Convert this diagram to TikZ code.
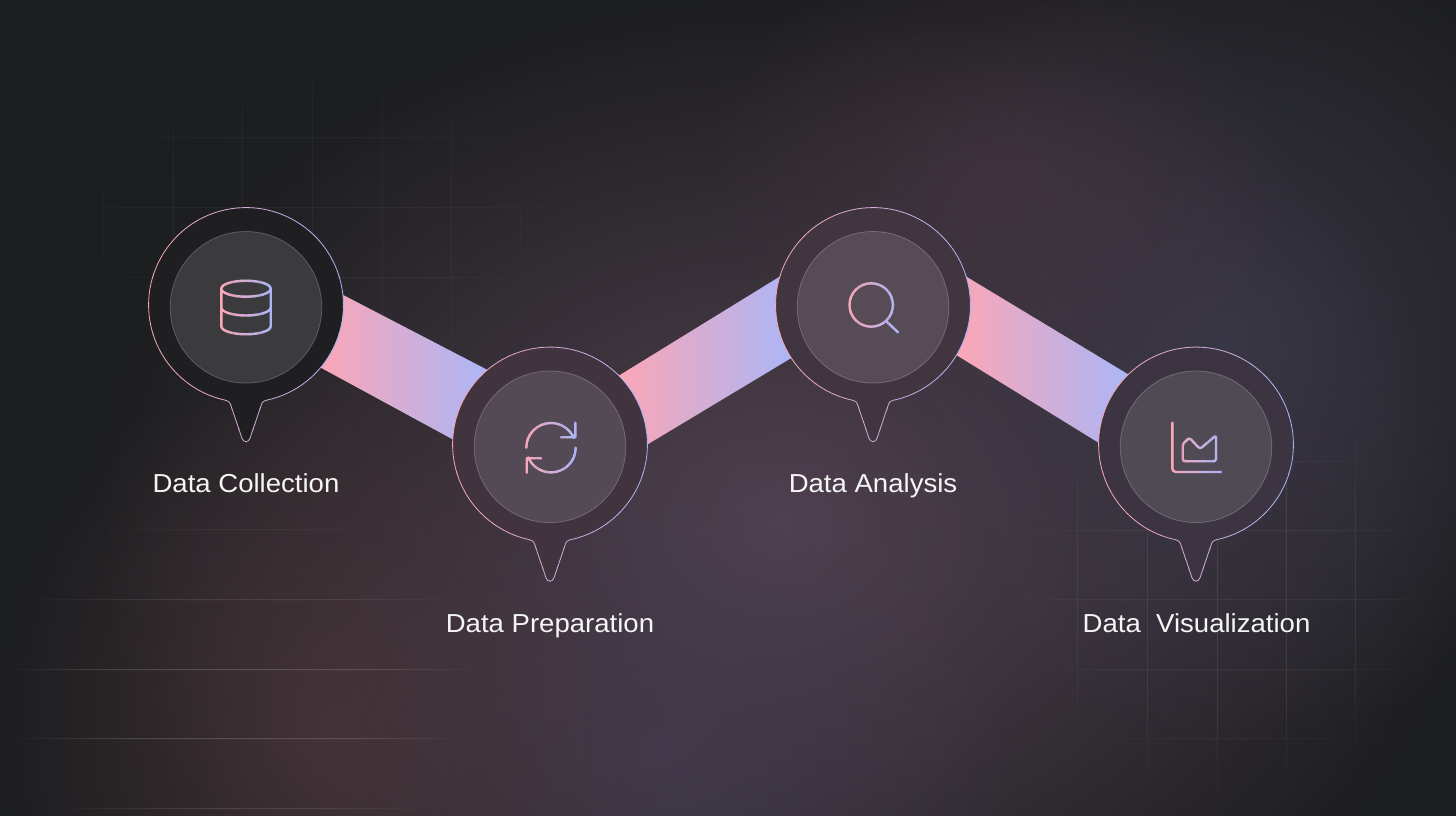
\documentclass[tikz,border=0pt]{standalone}
\usepackage{fontspec}
\setmainfont[FakeStretch=1.06]{Liberation Sans}
\usetikzlibrary{fadings,calc}
\definecolor{gpink}{HTML}{FBA6B6}
\definecolor{gblue}{HTML}{ABB6F7}
\definecolor{bgbase}{HTML}{1D1E20}
\definecolor{glowa}{HTML}{524250}
\definecolor{glowb}{HTML}{3E3B4C}
\definecolor{glowc}{HTML}{4A3844}
\definecolor{glowd}{HTML}{443C4E}
\definecolor{glowe}{HTML}{4A363A}
\definecolor{rima}{HTML}{1F1E21}
\definecolor{rimb}{HTML}{41343F}
\definecolor{rimc}{HTML}{41353F}
\definecolor{rimd}{HTML}{3C3541}
\definecolor{disca}{HTML}{3B3A3D}
\definecolor{discb}{HTML}{534A55}
\definecolor{discc}{HTML}{574C56}
\definecolor{discd}{HTML}{504A55}
\tikzfading[name=glowfade, inner color=transparent!0, outer color=transparent!100]
\pgfdeclareradialshading{gridshade}{\pgfpointorigin}{color(0bp)=(pgftransparent!0); color(14bp)=(pgftransparent!15); color(25bp)=(pgftransparent!100); color(50bp)=(pgftransparent!100)}
\pgfdeclarefading{gridfade}{\pgfuseshading{gridshade}}
\tikzset{
    bubble/.style={circle, minimum size=194.8pt, inner sep=0pt, outer sep=0pt},
    disc/.style={circle, minimum size=151.6pt, inner sep=0pt, draw=white, draw opacity=0.22, line width=0.8pt},
    band/.style={left color=gpink, right color=gblue},
    iconline/.style={line width=2.4pt, line cap=round, line join=round},
    rimline/.style={line width=0.8pt},
    steplabel/.style={anchor=base, text=white!96!black, font=\fontsize{26}{30}\selectfont},
    glow/.style={fill=#1, path fading=glowfade},
    gridlines/.style={fill=white, fill opacity=#1, path fading=gridfade}
}
\newcommand{\bubblepath}{(-78:97.4pt) arc[start angle=-78, end angle=257.7, radius=97.4pt]
    .. controls (-17,-96.4) and (-16,-97.5) .. (-15.6,-99) -- (-4,-133.3)
    .. controls (-2.5,-137.8) and (2.5,-137.8) .. (4,-133.3) -- (15.6,-99)
    .. controls (16,-97.5) and (17,-96.4) .. (20.25,-95.27)}
\newcommand{\gradstroke}[4]{%
    \foreach \k in {0,...,27}{
        \pgfmathsetmacro{\mixval}{100-\k*100/27}
        \begin{scope}
            \clip ({#1+(#2-#1)*\k/28-0.15},-150) rectangle ({#1+(#2-#1)*(\k+1)/28+0.15},150);
            \draw[#3, color=gpink!\mixval!gblue] #4;
        \end{scope}
    }}
\newcommand{\bubbleshape}[2]{%
    \begin{scope}[shift={(#1)}]
        \fill[#2] \bubblepath;
        \gradstroke{-100}{100}{rimline}{\bubblepath}
    \end{scope}}
\begin{document}
\begin{tikzpicture}[x=1pt,y=1pt]
    \useasboundingbox (0,0) rectangle (1456,816);
    \begin{scope}
    \clip (0,0) rectangle (1456,816);
    \fill[bgbase] (0,0) rectangle (1456,816);
    \fill[glow=glowa] (780,290) ellipse (690pt and 530pt);
    \fill[glow=glowb, opacity=0.8] (1230,480) ellipse (400pt and 420pt);
    \fill[glow=glowc, opacity=0.6] (1000,640) ellipse (300pt and 240pt);
    \fill[glow=glowd, opacity=0.8] (650,60) ellipse (380pt and 340pt);
    \fill[glow=glowe, opacity=0.8] (330,90) ellipse (330pt and 380pt);
    \fill[gridlines=0.07] \foreach \yy in {678,608,538,469} { (50,\yy) rectangle (570,\yy+0.8) }
        \foreach \xx in {103,173,242,312,382,451,520} { (\xx,410) rectangle (\xx+0.8,770) };
    \fill[gridlines=0.17] (240,330) rectangle +(0.1,0.1)
        \foreach \yy in {286,216,146,77,7,-63} { (0,\yy) rectangle (480,\yy+0.9) };
    \fill[gridlines=0.09] \foreach \yy in {354,285,216,146,77} { (1000,\yy) rectangle (1456,\yy+0.8) }
        \foreach \xx in {1077,1147,1217,1286,1355} { (\xx,10) rectangle (\xx+0.8,440) };
    \end{scope}

    \node[bubble] (collection) at (246,511) {};
    \node[bubble] (preparation) at (550,371.5) {};
    \node[bubble] (analysis) at (873,511) {};
    \node[bubble] (visualization) at (1196,371.5) {};

    \shade[band] (collection.6) -- (preparation.130) -- (preparation.177) -- (collection.-40) -- cycle;
    \shade[band] (preparation.45) -- (analysis.163) -- (analysis.213) -- (preparation.0) -- cycle;
    \shade[band] (analysis.17) -- (visualization.134) -- (visualization.179) -- (analysis.-31) -- cycle;

    \bubbleshape{collection}{rima}
    \bubbleshape{preparation}{rimb}
    \bubbleshape{analysis}{rimc}
    \bubbleshape{visualization}{rimd}

    \node[disc, fill=disca] (collectiondisc) at ($(collection)+(0,-2.3)$) {};
    \node[disc, fill=discb] (preparationdisc) at ($(preparation)+(0,-2.3)$) {};
    \node[disc, fill=discc] (analysisdisc) at ($(analysis)+(0,-2.3)$) {};
    \node[disc, fill=discd] (visualizationdisc) at ($(visualization)+(0,-2.3)$) {};

    \begin{scope}[shift={(collection)}]
        \gradstroke{-27}{27}{iconline}{(0,16.3) ellipse (24.7pt and 8pt)
            (-24.7,16.3) -- (-24.7,-21.3) arc[start angle=180, end angle=360, x radius=24.7pt, y radius=8pt] -- (24.7,16.3)
            (-24.7,-2.5) arc[start angle=180, end angle=360, x radius=24.7pt, y radius=8pt]}
    \end{scope}
    \begin{scope}[shift={(preparation)}]
        \gradstroke{-27}{27}{iconline}{(-23.7,-3.2) arc[start angle=180, end angle=23, radius=24.7pt]
            (25.3,21.8) -- (25.3,7.2) -- (11,7.2)
            (25.7,-3.2) arc[start angle=0, end angle=-157, radius=24.7pt]
            (-23.3,-28.2) -- (-23.3,-13.8) -- (-9,-13.8)}
    \end{scope}
    \begin{scope}[shift={(analysis)}]
        \gradstroke{-27}{27}{iconline}{(-1.8,0) circle (21.7pt) (13.7,-16.7) -- (25,-27.3)}
    \end{scope}
    \begin{scope}[shift={(visualization)}]
        \gradstroke{-27}{27}{iconline}{[rounded corners=3.5pt] (-23.7,21.8) -- (-23.7,-27.5) -- (25,-27.5)
            [rounded corners=2.5pt] (-13.3,0.5) -- (-6.7,6.8) -- (4,-4.5) -- (20,9.2) -- (20,-16.8) -- (-13.3,-16.8) -- cycle}
    \end{scope}

    \node[steplabel] (collectionlabel) at (246,323) {Data Collection};
    \node[steplabel] (preparationlabel) at (550,183) {Data Preparation};
    \node[steplabel] (analysislabel) at (873,323) {Data Analysis};
    \node[steplabel] (visualizationlabel) at (1196.5,183) {Data\ \ Visualization};
\end{tikzpicture}
\end{document}
